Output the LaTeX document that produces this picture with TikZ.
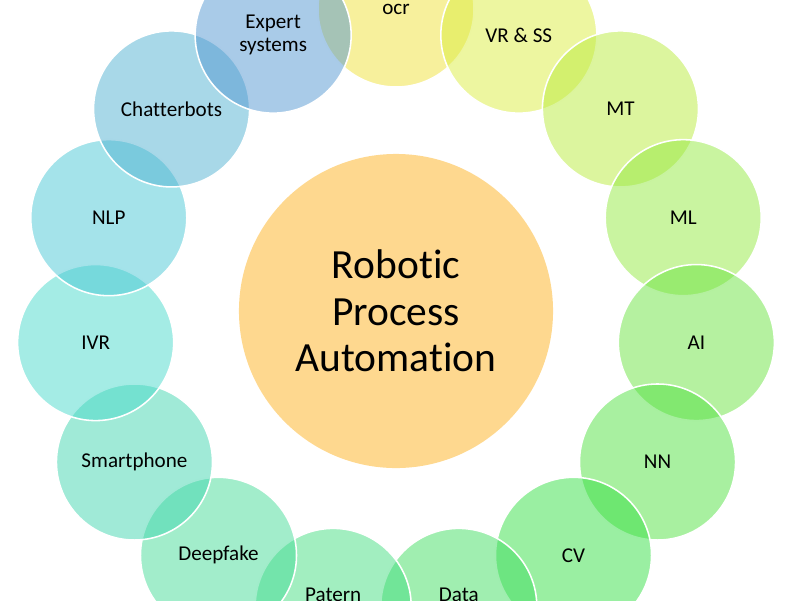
\documentclass[tikz,border=0pt]{standalone}
\usepackage{fontspec}
\setmainfont{Carlito}[Ligatures=NoCommon]
\definecolor{hubfill}{RGB}{254,216,143}
\definecolor{cocr}{RGB}{239,225,57}
\definecolor{cvrss}{RGB}{219,237,65}
\definecolor{cmt}{RGB}{185,235,61}
\definecolor{cml}{RGB}{147,233,65}
\definecolor{cai}{RGB}{107,227,65}
\definecolor{cnn}{RGB}{81,225,65}
\definecolor{ccv}{RGB}{53,223,69}
\definecolor{cdata}{RGB}{65,221,97}
\definecolor{cpatern}{RGB}{69,221,129}
\definecolor{cdeepfake}{RGB}{69,219,151}
\definecolor{csmartphone}{RGB}{65,213,175}
\definecolor{civr}{RGB}{73,217,203}
\definecolor{cnlp}{RGB}{73,199,213}
\definecolor{cchatterbots}{RGB}{81,177,209}
\definecolor{cexpert}{RGB}{83,151,209}

\begin{document}
\begin{tikzpicture}[x=0.025cm,y=0.025cm,
   bubble/.style={circle,draw=white,line width=1.1pt,fill opacity=0.5,
     minimum size=3.9cm,inner sep=0pt},
   bubtext/.style={text opacity=1,fill opacity=1,align=center,inner sep=0pt,
     font=\fontsize{15}{16}\selectfont},
   hub/.style={circle,fill=hubfill,minimum size=7.85cm,inner sep=0pt,align=center,
     font=\fontsize{29.5}{33}\selectfont}]
\useasboundingbox (-396,-289) rectangle (404,311);
\clip (-396,-289) rectangle (404,311);
\node[hub] (rpa) at (0,0) {Robotic\\Process\\Automation};
\foreach \name/\ang/\dy/\txt in {ocr/90/0/ocr, vrss/66/0/VR \& SS, mt/42/0/MT,
    ml/18/0/ML, ai/-6/0/AI, nn/-30/0/NN, cv/-54/0/CV, data/-78/8.5/Data,
    patern/-102/8.5/Patern, deepfake/-126/0/Deepfake, smartphone/-150/0/Smartphone,
    ivr/-174/0/IVR, nlp/162/0/NLP, chatterbots/138/0/Chatterbots,
    expert/114/0/{Expert\\systems}}
  \node[bubble,fill=c\name,label={[bubtext,yshift=\dy pt]center:\txt}] (\name) at (\ang:302) {};
\end{tikzpicture}
\end{document}
